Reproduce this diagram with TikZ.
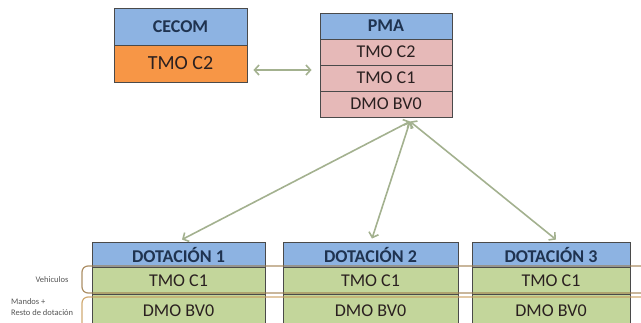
\documentclass[tikz,border=0pt]{standalone}
\usepackage{fontspec}
\setmainfont{Carlito}
\usetikzlibrary{arrows.meta}
\definecolor{hdrblue}{HTML}{8DB3E2}
\definecolor{orangec}{HTML}{F79646}
\definecolor{pinkc}{HTML}{E6B9B8}
\definecolor{greenc}{HTML}{C3D69B}
\definecolor{bord}{HTML}{4A4A4A}
\definecolor{arrc}{HTML}{A3B18F}
\definecolor{navy}{HTML}{1F3350}
\definecolor{darktxt}{HTML}{2A2020}
\definecolor{brk1}{HTML}{9E7B4A}
\definecolor{brk2}{HTML}{C89B5A}
\definecolor{lbl}{HTML}{555555}
\begin{document}
\begin{tikzpicture}[x=1pt,y=-1pt,
  cell/.style={draw=bord, line width=0.9pt, rectangle, inner sep=0pt, align=center},
  hdrcell/.style={cell, fill=hdrblue, text=navy, font=\fontsize{18}{20}\selectfont\bfseries},
  rowcell/.style={cell, text=darktxt, font=\fontsize{18}{20}\selectfont},
  arr/.style={draw=arrc, line width=1.6pt, {Straight Barb[length=4.5pt,width=10pt]}-{Straight Barb[length=4.5pt,width=10pt]}},
  brk/.style={line width=1.2pt, rounded corners=6pt, opacity=0.85},
  small/.style={text=lbl, font=\fontsize{8.5}{10}\selectfont, inner sep=0pt}
]
\useasboundingbox (0,0) rectangle (641,322);
\clip (0,0) rectangle (641,322);

% CECOM
\node[hdrcell, minimum width=133pt, minimum height=37pt] (cecomh) at (180.5,26.5) {CECOM};
\node[rowcell, fill=orangec, minimum width=133pt, minimum height=37pt, font=\fontsize{20}{22}\selectfont] (cecomr) at (180.5,63.5) {TMO C2};

% PMA
\node[hdrcell, minimum width=132pt, minimum height=26pt] (pmah) at (386,26) {PMA};
\node[rowcell, fill=pinkc, minimum width=132pt, minimum height=26pt] (pmar1) at (386,52) {TMO C2};
\node[rowcell, fill=pinkc, minimum width=132pt, minimum height=26pt] (pmar2) at (386,78) {TMO C1};
\node[rowcell, fill=pinkc, minimum width=132pt, minimum height=26pt] (pmar3) at (386,104) {DMO BV0};

% Dotaciones
\node[hdrcell, minimum width=173pt, minimum height=25pt] (d1h) at (178.5,254.5) {DOTACIÓN 1};
\node[rowcell, fill=greenc, minimum width=173pt, minimum height=27pt] (d1a) at (178.5,280.5) {TMO C1};
\node[rowcell, fill=greenc, minimum width=173pt, minimum height=34pt] (d1b) at (178.5,311) {DMO BV0};

\node[hdrcell, minimum width=175pt, minimum height=25pt] (d2h) at (370.5,254.5) {DOTACIÓN 2};
\node[rowcell, fill=greenc, minimum width=175pt, minimum height=27pt] (d2a) at (370.5,280.5) {TMO C1};
\node[rowcell, fill=greenc, minimum width=175pt, minimum height=34pt] (d2b) at (370.5,311) {DMO BV0};

\node[hdrcell, minimum width=158pt, minimum height=25pt] (d3h) at (551,254.5) {DOTACIÓN 3};
\node[rowcell, fill=greenc, minimum width=158pt, minimum height=27pt] (d3a) at (551,280.5) {TMO C1};
\node[rowcell, fill=greenc, minimum width=158pt, minimum height=34pt] (d3b) at (551,311) {DMO BV0};

% connectors
\coordinate (hub) at ([shift={(24,4)}]pmar3.south);
\draw[arr] ([shift={(6,6.5)}]cecomr.east) -- ([shift={(-8,-8)}]pmar2.west);
\draw[arr] (hub) -- ([shift={(3.5,-2)}]d1h.north);
\draw[arr] (hub) -- ([shift={(1.5,-3)}]d2h.north);
\draw[arr] (hub) -- ([shift={(5,-2)}]d3h.north);

% brackets
\draw[brk, draw=brk1] (660,266) -- (82,266) -- (82,293) -- (660,293);
\draw[brk, draw=brk2] (660,297) -- (82,297) -- (82,340);

% labels
\node[small] (veh) at (52,280) {Vehiculos};
\node[small, anchor=west] (mand) at (11,302) {Mandos +};
\node[small, anchor=west] (resto) at (11,313) {Resto de dotación};
\end{tikzpicture}
\end{document}
